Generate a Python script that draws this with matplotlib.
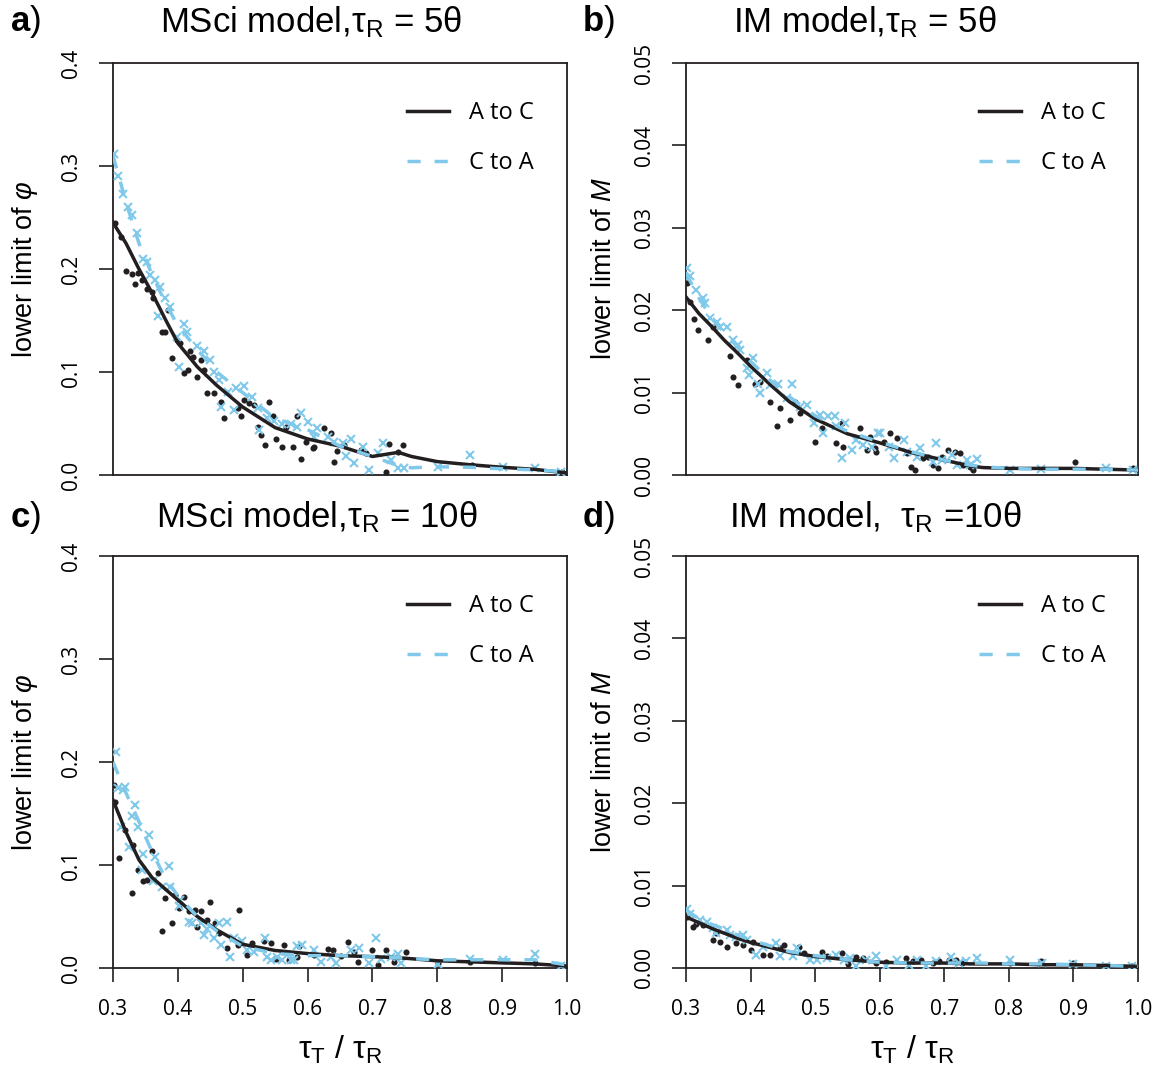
import matplotlib
matplotlib.use("Agg")
import matplotlib.pyplot as plt

plt.rcParams['mathtext.fontset'] = 'custom'
plt.rcParams['mathtext.rm'] = 'Liberation Sans'
plt.rcParams['mathtext.it'] = 'Liberation Sans:italic'
plt.rcParams['mathtext.bf'] = 'Liberation Sans:bold'
plt.rcParams['font.family'] = ['Liberation Sans', 'DejaVu Sans']

BLACK = '#231f20'
BLUE = '#80c9ea'

# ---------------- data ----------------
x_ticks = [0.3, 0.4, 0.5, 0.6, 0.7, 0.8, 0.9, 1.0]
phi_ticks = [0.0, 0.1, 0.2, 0.3, 0.4]
m_ticks = [0.00, 0.01, 0.02, 0.03, 0.04, 0.05]

titles = ["MSci model,τ$_\\mathregular{R}$ = 5θ", "IM model,τ$_\\mathregular{R}$ = 5θ",
          "MSci model,τ$_\\mathregular{R}$ = 10θ", "IM model,  τ$_\\mathregular{R}$ =10θ"]
panel_letters = ["a", "b", "c", "d"]
legend_labels = ["A to C", "C to A"]

line_x = [0.3, 0.32, 0.34, 0.36, 0.38, 0.40, 0.43, 0.46, 0.5, 0.55, 0.6, 0.65, 0.7, 0.74, 0.76, 0.8, 0.85, 0.9, 0.95, 1.0]

# panel a
a_line_ac = [0.245, 0.225, 0.2, 0.177, 0.152, 0.128, 0.105, 0.087, 0.066, 0.046, 0.035, 0.028, 0.018, 0.022, 0.018, 0.013, 0.010, 0.0075, 0.0055, 0.002]
a_line_ca = [0.31, 0.265, 0.225, 0.195, 0.168, 0.145, 0.122, 0.1, 0.08, 0.055, 0.044, 0.028, 0.018, 0.009, 0.007, 0.008, 0.0075, 0.006, 0.005, 0.003]
a_pts_ac_x = [.303, .313, .32, .329, .334, .339, .344, .352, .36, .362, .375, .38, .385, .391, .399, .404, .409, .416, .419, .424, .435, .43, .44, .445, .455, .466, .471, .492, .497, .502, .509, .517, .523, .528, .535, .54, .546, .551, .561, .566, .577, .584, .59, .597, .608, .61, .625, .636, .64, .646, .656, .682, .69, .721, .726, .739, .747, .853, .992]
a_pts_ac_y = [.245, .231, .198, .195, .185, .196, .189, .181, .178, .172, .139, .139, .16, .114, .131, .128, .099, .102, .12, .115, .112, .095, .102, .08, .08, .071, .055, .065, .057, .073, .07, .068, .047, .039, .029, .071, .057, .035, .027, .047, .027, .057, .016, .032, .026, .027, .046, .041, .013, .023, .029, .024, .021, .003, .03, .022, .029, .01, .003]
a_pts_ca_x = [.302, .308, .315, .323, .329, .337, .347, .352, .357, .365, .373, .38, .388, .37, .399, .401, .409, .414, .43, .44, .45, .455, .463, .466, .478, .489, .502, .515, .486, .523, .525, .538, .548, .561, .574, .584, .59, .6, .615, .61, .631, .641, .654, .667, .659, .672, .685, .695, .708, .716, .729, .739, .749, .801, .85, .902, .951, .99]
a_pts_ca_y = [.312, .29, .273, .26, .252, .235, .21, .207, .194, .189, .183, .172, .163, .154, .134, .105, .147, .139, .125, .12, .112, .1, .092, .066, .081, .084, .086, .076, .063, .065, .044, .055, .052, .05, .05, .047, .06, .051, .046, .037, .037, .032, .031, .035, .018, .012, .027, .005, .021, .031, .015, .007, .007, .008, .019, .008, .007, .003]

# panel b
b_line_ac = [0.0216, 0.0196, 0.018, 0.0163, 0.0148, 0.0132, 0.0110, 0.0089, 0.0068, 0.0050, 0.0039, 0.0027, 0.0018, 0.0011, 0.0009, 0.0008, 0.0008, 0.0008, 0.0007, 0.0006]
b_line_ca = [0.0245, 0.0215, 0.019, 0.0172, 0.0155, 0.0138, 0.0115, 0.0095, 0.0072, 0.0053, 0.0040, 0.0028, 0.0018, 0.0012, 0.0010, 0.0008, 0.0007, 0.0007, 0.0007, 0.0006]
b_pts_ac_x = [.301, .306, .313, .318, .334, .342, .368, .373, .381, .394, .407, .415, .43, .441, .446, .461, .469, .477, .5, .51, .533, .543, .541, .57, .58, .585, .595, .593, .606, .616, .626, .642, .649, .654, .667, .675, .682, .69, .696, .705, .716, .724, .729, .74, .745, .902, .992]
b_pts_ac_y = [.0233, .021, .0189, .0176, .0164, .018, .0144, .0119, .0109, .014, .0111, .0113, .0089, .0059, .0081, .0067, .0089, .0075, .004, .0057, .0039, .0034, .0063, .0057, .003, .0046, .0028, .0033, .004, .0051, .0045, .0027, .001, .0006, .0021, .0022, .0012, .0008, .0022, .003, .0028, .0027, .0012, .001, .0006, .0016, .0008]
b_pts_ca_x = [.301, .306, .316, .327, .33, .337, .348, .353, .363, .373, .381, .384, .394, .404, .397, .411, .415, .426, .43, .443, .456, .464, .477, .488, .498, .508, .512, .52, .531, .533, .546, .541, .557, .564, .574, .588, .598, .601, .614, .637, .642, .622, .658, .663, .687, .683, .696, .712, .719, .735, .74, .75, .802, .85, .951, .992]
b_pts_ca_y = [.0251, .0241, .0224, .0215, .0209, .019, .0186, .018, .018, .0164, .0158, .0152, .013, .0142, .0121, .0111, .0099, .0124, .0109, .0111, .0093, .0111, .0083, .0085, .0063, .0073, .0051, .0071, .0071, .0059, .0063, .0021, .003, .0042, .0036, .0034, .0051, .0051, .0034, .0042, .0028, .0021, .0022, .0033, .0039, .0016, .0018, .0024, .0012, .0018, .0012, .0019, .0006, .0007, .0008, .0006]

# panel c
c_line_ac = [0.163, 0.132, 0.105, 0.088, 0.077, 0.066, 0.05, 0.037, 0.023, 0.017, 0.014, 0.012, 0.011, 0.010, 0.009, 0.007, 0.006, 0.005, 0.004, 0.002]
c_line_ca = [0.2, 0.17, 0.142, 0.113, 0.088, 0.07, 0.05, 0.036, 0.021, 0.014, 0.012, 0.012, 0.011, 0.010, 0.009, 0.008, 0.008, 0.008, 0.008, 0.003]
c_pts_ac_x = [.302, .303, .31, .319, .331, .33, .339, .347, .352, .36, .37, .375, .38, .391, .396, .409, .401, .417, .427, .435, .43, .445, .45, .458, .463, .476, .494, .492, .507, .515, .533, .543, .551, .564, .572, .584, .587, .61, .631, .639, .652, .662, .672, .677, .7, .708, .721, .734, .752, .801, .85, .951]
c_pts_ac_y = [.178, .161, .107, .134, .119, .073, .095, .084, .085, .114, .092, .036, .068, .044, .071, .069, .058, .055, .056, .055, .04, .047, .064, .044, .034, .019, .056, .022, .013, .024, .026, .024, .009, .022, .008, .011, .021, .013, .018, .017, .012, .025, .016, .006, .017, .003, .017, .006, .016, .005, .006, .005]
c_pts_ca_x = [.305, .308, .316, .319, .313, .324, .329, .334, .339, .347, .355, .365, .344, .362, .386, .375, .388, .404, .401, .417, .422, .435, .44, .445, .455, .463, .466, .476, .481, .486, .499, .507, .517, .535, .538, .543, .553, .561, .574, .584, .579, .592, .61, .621, .636, .644, .667, .679, .695, .705, .713, .729, .739, .744, .801, .85, .902, .951, .99]
c_pts_ca_y = [.21, .175, .173, .176, .137, .117, .148, .158, .137, .111, .129, .108, .095, .084, .099, .079, .079, .066, .06, .045, .044, .044, .032, .038, .029, .044, .022, .045, .011, .029, .026, .017, .016, .029, .011, .008, .011, .008, .008, .021, .008, .022, .017, .006, .011, .005, .017, .019, .005, .029, .009, .011, .014, .005, .004, .009, .008, .014, .002]

# panel d
d_line_ac = [0.0062, 0.0055, 0.0048, 0.0042, 0.0036, 0.0031, 0.0025, 0.0019, 0.0014, 0.0010, 0.0007, 0.0006, 0.0006, 0.0005, 0.0005, 0.0005, 0.0004, 0.0004, 0.0003, 0.0002]
d_line_ca = [0.0070, 0.0060, 0.0053, 0.0047, 0.0040, 0.0034, 0.0027, 0.0020, 0.0015, 0.0010, 0.0007, 0.0006, 0.0006, 0.0006, 0.0006, 0.0005, 0.0005, 0.0004, 0.0003, 0.0002]
d_pts_ac_x = [.301, .311, .316, .327, .342, .347, .352, .363, .378, .389, .401, .404, .42, .43, .446, .451, .475, .482, .51, .518, .541, .551, .564, .574, .595, .61, .641, .651, .664, .682, .692, .708, .718, .728, .801, .85, .9, .95, .99]
d_pts_ac_y = [.0062, .005, .0054, .0052, .0034, .0042, .0032, .0025, .003, .0028, .0022, .0032, .0016, .0016, .0024, .0028, .0026, .0018, .002, .0014, .0018, .0005, .0013, .0012, .0006, .0007, .0012, .0008, .001, .0006, .0008, .001, .001, .0006, .0006, .0008, .0006, .0003, .0002]
d_pts_ca_x = [.301, .306, .322, .332, .342, .347, .363, .368, .378, .389, .394, .409, .42, .44, .446, .466, .472, .492, .503, .518, .533, .544, .554, .564, .579, .595, .61, .626, .646, .657, .672, .687, .711, .723, .733, .75, .801, .852, .9, .95, .99]
d_pts_ca_y = [.0072, .0066, .0058, .0056, .0048, .0042, .0046, .004, .0038, .004, .0034, .0016, .0026, .003, .0014, .0014, .0024, .001, .001, .0012, .0016, .001, .0012, .0003, .001, .0014, .0003, .001, .0004, .001, .0003, .0008, .0013, .0006, .0008, .0012, .001, .0006, .0005, .0003, .0002]

panels = [
    (a_line_ac, a_line_ca, a_pts_ac_x, a_pts_ac_y, a_pts_ca_x, a_pts_ca_y),
    (b_line_ac, b_line_ca, b_pts_ac_x, b_pts_ac_y, b_pts_ca_x, b_pts_ca_y),
    (c_line_ac, c_line_ca, c_pts_ac_x, c_pts_ac_y, c_pts_ca_x, c_pts_ca_y),
    (d_line_ac, d_line_ca, d_pts_ac_x, d_pts_ac_y, d_pts_ca_x, d_pts_ca_y),
]

# ---------------- layout ----------------
W, H = 1161, 1068
fig = plt.figure(figsize=(W / 100, H / 100), dpi=100)

def px_rect(l, r, t, b):
    return [l / W, 1 - b / H, (r - l) / W, (b - t) / H]

rects = [px_rect(113, 567, 63, 475), px_rect(686, 1138, 63, 475),
         px_rect(113, 567, 556, 968), px_rect(686, 1138, 556, 968)]
title_pos = [(311, 22), (865, 22), (317, 517), (875, 517)]
letter_pos = [(10, 22), (582, 22), (10, 517), (582, 517)]
ylabel_x = [25, 604, 25, 604]

tick_font = ['Open Sans', 'DejaVu Sans']

for i, (rect, data) in enumerate(zip(rects, panels)):
    l_ac, l_ca, pacx, pacy, pcax, pcay = data
    ax = fig.add_axes(rect)
    is_phi = i in (0, 2)
    bottom = i in (2, 3)
    ax.set_xlim(0.3, 1.0)
    ax.set_ylim(0, 0.4 if is_phi else 0.05)

    ax.plot(pacx, pacy, 'o', color=BLACK, ms=4.4, mew=0, zorder=3)
    ax.plot(pcax, pcay, 'x', color=BLUE, ms=5.6, mew=1.5, zorder=3)
    ax.plot(line_x, l_ac, '-', color=BLACK, lw=2.5, zorder=4, label=legend_labels[0])
    ax.plot(line_x, l_ca, '--', color=BLUE, lw=2.5, dashes=(3.8, 4.0), zorder=5, label=legend_labels[1])

    for s in ax.spines.values():
        s.set_linewidth(1.3)
        s.set_color(BLACK)

    yt = phi_ticks if is_phi else m_ticks
    ax.set_yticks(yt)
    ax.set_yticklabels([("%.1f" if is_phi else "%.2f") % v for v in yt],
                       rotation=90, va='center', ha='right', family=tick_font, fontsize=15)
    ax.tick_params(axis='y', direction='out', length=10, width=1.2, pad=12, color=BLACK)
    if bottom:
        ax.set_xticks(x_ticks)
        ax.set_xticklabels(["%.1f" % v for v in x_ticks], family=tick_font, fontsize=15)
        ax.tick_params(axis='x', direction='out', length=10, width=1.2, pad=12, color=BLACK)
        ax.set_xlabel("τ$_\\mathregular{T}$ / τ$_\\mathregular{R}$", fontsize=23, va='center')
        ax.xaxis.set_label_coords(0.5, -(1050 - 968) / 412)
    else:
        ax.set_xticks([])

    ylab = "lower limit of $\\varphi$" if is_phi else "lower limit of $M$"
    ax.set_ylabel(ylab, fontsize=19.5, va='center')
    ax.yaxis.set_label_coords(-(rect[0] * W - ylabel_x[i]) / (rect[2] * W), 0.5)

    leg = ax.legend(loc='upper left', bbox_to_anchor=(0.648, 0.908), frameon=False,
                    borderpad=0, borderaxespad=0, handlelength=1.77, handletextpad=0.85,
                    labelspacing=1.12, prop={'family': tick_font, 'size': 17})

    tx, ty = title_pos[i]
    fig.text(tx / W, 1 - ty / H, titles[i], fontsize=25, ha='center', va='center')
    lx, ly = letter_pos[i]
    fig.text(lx / W, 1 - ly / H, "$\\mathbf{%s}$)" % panel_letters[i], fontsize=25, ha='left', va='center')

fig.savefig("out.png", dpi=100)
